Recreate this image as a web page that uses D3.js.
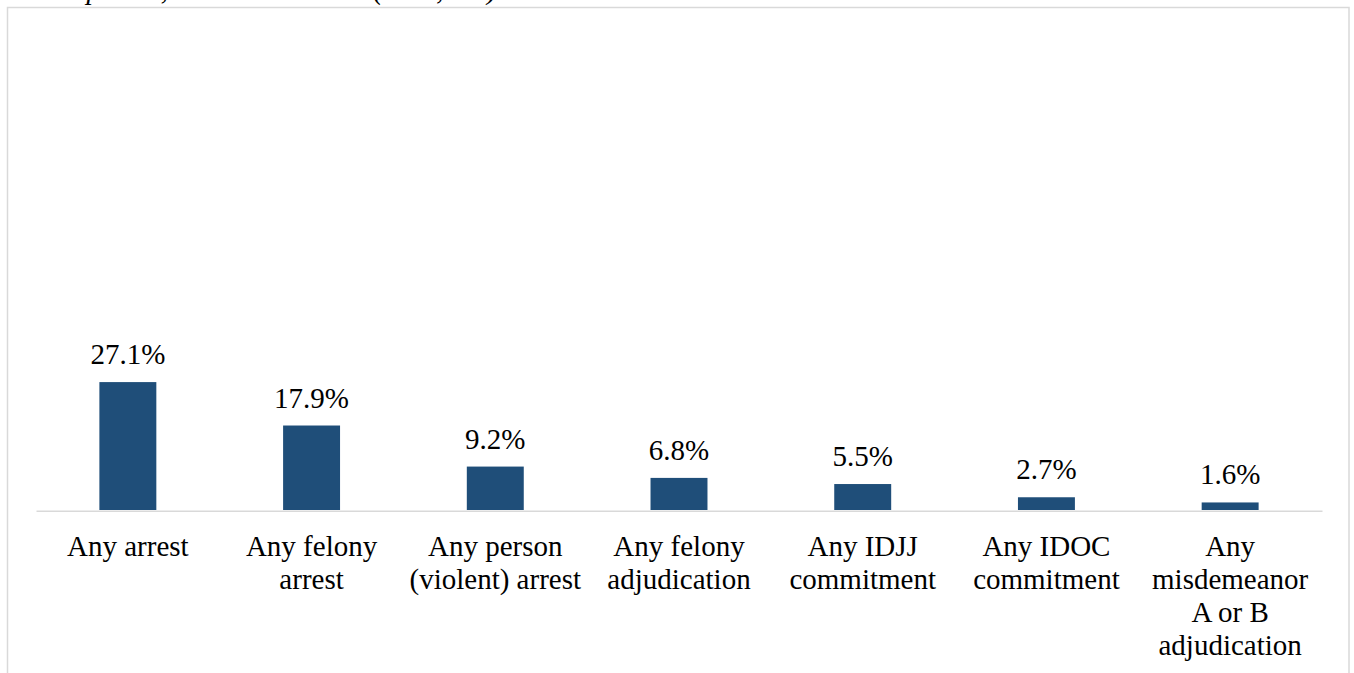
<!DOCTYPE html>
<html>
<head>
<meta charset="utf-8">
<script src="https://cdn.jsdelivr.net/npm/d3@7/dist/d3.min.js"></script>
<style>
  html, body { margin: 0; padding: 0; background: #fff; }
  svg { display: block; }
</style>
</head>
<body>
<svg id="chart" width="1354" height="673"></svg>
<script>
// Outcome categories (line breaks as wrapped under each bar)
const categories = [
  ["Any arrest"],
  ["Any felony", "arrest"],
  ["Any person", "(violent) arrest"],
  ["Any felony", "adjudication"],
  ["Any IDJJ", "commitment"],
  ["Any IDOC", "commitment"],
  ["Any", "misdemeanor", "A or B", "adjudication"]
];
const categoryKeys = categories.map(c => c.join(" "));
// Share of participants with each outcome (%)
const values = [27.1, 17.9, 9.2, 6.8, 5.5, 2.7, 1.6];
const titleText = "Participation, Matched Cohort (N=1,012)";

const svg = d3.select("#chart");
const W = 1354, H = 673;
const serif = "'Liberation Serif', 'Times New Roman', serif";

// chart frame
svg.append("rect")
  .attr("x", 7.5).attr("y", 7.5)
  .attr("width", 1341.5).attr("height", H + 20)
  .attr("fill", "#fff")
  .attr("stroke", "#d9d9d9")
  .attr("stroke-width", 1.5);

// title line, running off the top of the page
svg.append("text")
  .attr("x", 6).attr("y", -1)
  .attr("font-family", serif)
  .attr("font-style", "italic")
  .attr("font-size", 29)
  .attr("fill", "#000")
  .text(titleText);

const x = d3.scaleBand()
  .domain(categoryKeys)
  .range([36, 1322])
  .paddingInner(0.69)
  .paddingOuter(0.345);

const y = d3.scaleLinear()
  .domain([0, 100])
  .range([510, 38]);

const data = categoryKeys.map((k, i) => ({ key: k, lines: categories[i], value: values[i] }));

// bars
svg.append("g").selectAll("rect")
  .data(data)
  .join("rect")
  .attr("x", d => x(d.key))
  .attr("y", d => y(d.value))
  .attr("width", x.bandwidth())
  .attr("height", d => y(0) - y(d.value))
  .attr("fill", "#1f4e79");

// category axis
const axis = svg.append("g")
  .attr("transform", `translate(0,${y(0) + 0.75})`)
  .call(d3.axisBottom(x).tickSize(0).tickFormat(""));
axis.select(".domain")
  .attr("stroke", "#d9d9d9")
  .attr("stroke-width", 1.5);

// category labels
const labels = svg.append("g")
  .attr("font-family", serif)
  .attr("font-size", 29)
  .attr("fill", "#000")
  .attr("text-anchor", "middle");
labels.selectAll("text")
  .data(data)
  .join("text")
  .attr("x", d => x(d.key) + x.bandwidth() / 2)
  .attr("y", 556)
  .each(function (d) {
    const t = d3.select(this);
    d.lines.forEach((ln, i) => {
      t.append("tspan")
        .attr("x", x(d.key) + x.bandwidth() / 2)
        .attr("dy", i === 0 ? 0 : 33)
        .text(ln);
    });
  });

// value labels
svg.append("g")
  .attr("font-family", serif)
  .attr("font-size", 29)
  .attr("fill", "#000")
  .attr("text-anchor", "middle")
  .selectAll("text")
  .data(data)
  .join("text")
  .attr("x", d => x(d.key) + x.bandwidth() / 2)
  .attr("y", d => y(d.value) - 18)
  .text(d => d.value.toFixed(1) + "%");
</script>
</body>
</html>
